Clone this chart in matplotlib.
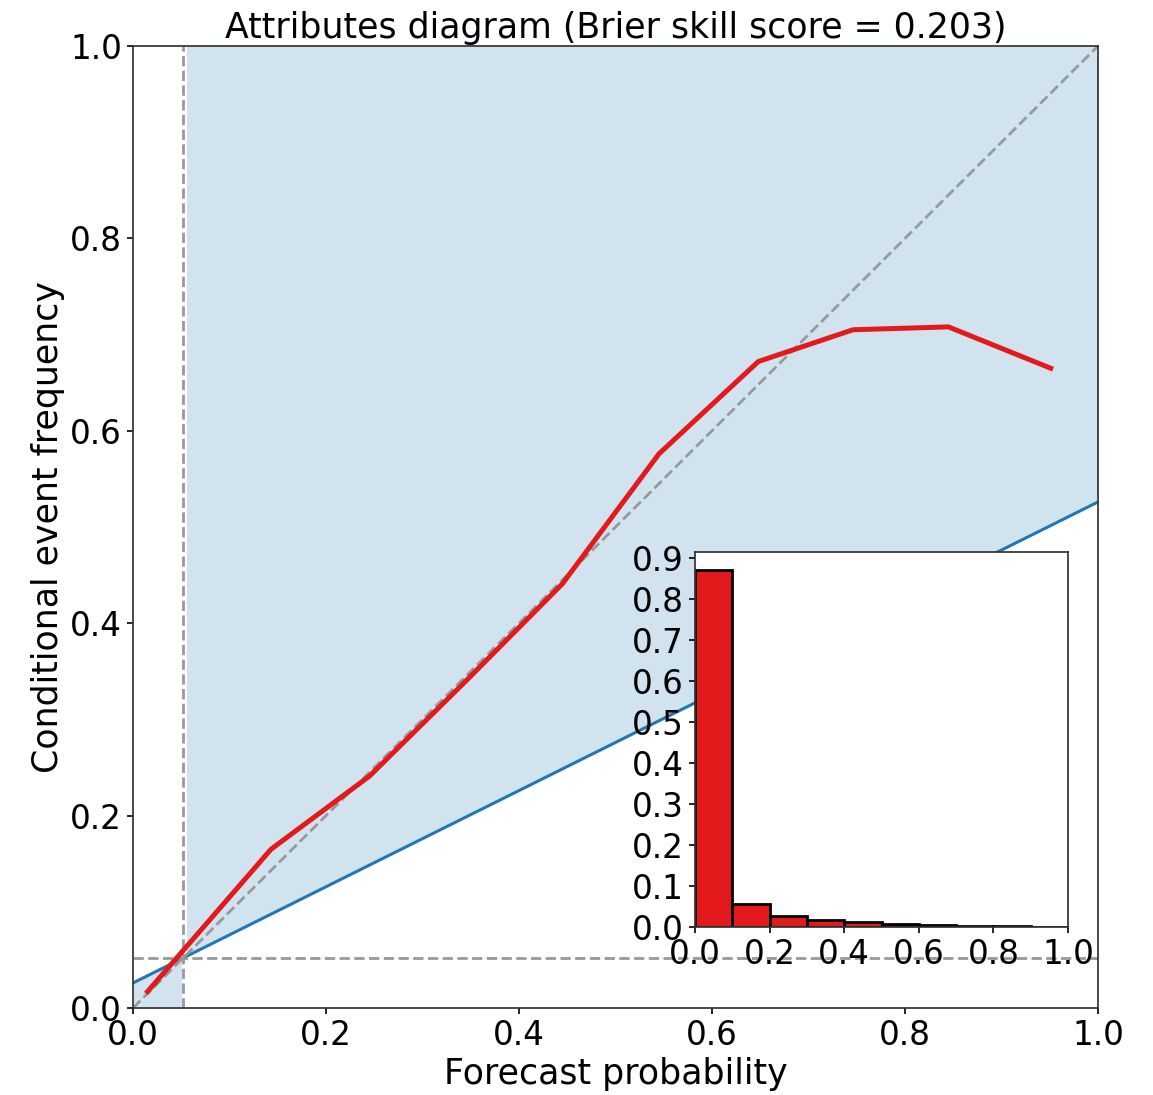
import numpy as np
import matplotlib
matplotlib.use("Agg")
import matplotlib.pyplot as plt

# reliability curve (bin means)
forecast_prob = [0.015, 0.143, 0.245, 0.345, 0.445, 0.545, 0.648, 0.746, 0.845, 0.951]
event_freq = [0.017, 0.165, 0.241, 0.340, 0.441, 0.576, 0.672, 0.705, 0.708, 0.665]

# histogram of forecasts
bin_edges = [0.0, 0.1, 0.2, 0.3, 0.4, 0.5, 0.6, 0.7, 0.8, 0.9, 1.0]
bin_freq = [0.871, 0.057, 0.026, 0.017, 0.012, 0.007, 0.004, 0.003, 0.002, 0.001]

climatology = 0.052
bss = 0.203

fs_label = 25
fs_tick = 23.5

plt.rcParams['axes.linewidth'] = 1.25
plt.rcParams['axes.edgecolor'] = '#333333'
plt.rcParams['xtick.major.size'] = 4.4
plt.rcParams['ytick.major.size'] = 4.4
plt.rcParams['xtick.major.width'] = 1.2
plt.rcParams['ytick.major.width'] = 1.2

fig = plt.figure(figsize=(11.53, 10.95), dpi=100)
ax = fig.add_axes([0.1154, 0.0795, 0.8369, 0.8785])

# no-skill line and skill area
x = np.linspace(0, 1, 200)
no_skill = (x + climatology) / 2.0
ax.fill_between(x, no_skill, 1, where=x >= climatology, color='C0', alpha=0.2, linewidth=0)
ax.fill_between(x, 0, no_skill, where=x <= climatology, color='C0', alpha=0.2, linewidth=0)
ax.plot(x, no_skill, color='C0', lw=2.2)

ax.plot([0, 1], [0, 1], '--', color='#999999', lw=2)
ax.axhline(climatology, ls='--', color='#999999', lw=2)
ax.axvline(climatology, ls='--', color='#999999', lw=2)

ax.plot(forecast_prob, event_freq, color='#e31a1c', lw=3.6)

ax.set_xlim(0, 1)
ax.set_ylim(0, 1)
ax.set_xlabel('Forecast probability', fontsize=fs_label)
ax.set_ylabel('Conditional event frequency', fontsize=fs_label)
ax.set_title(f'Attributes diagram (Brier skill score = {bss:.3f})', fontsize=fs_label)
ax.tick_params(labelsize=fs_tick)

# inset histogram
ins = fig.add_axes([0.6028, 0.1534, 0.3235, 0.3425])
ins.bar(bin_edges[:-1], bin_freq, width=0.1, align='edge',
        color='#e31a1c', edgecolor='black', linewidth=2)
ins.set_xlim(0, 1)
ins.set_xticks([0, 0.2, 0.4, 0.6, 0.8, 1.0])
ins.set_yticks(np.arange(0, 1.0, 0.1))
ins.tick_params(labelsize=fs_tick)

plt.savefig('out.png', dpi=100)
